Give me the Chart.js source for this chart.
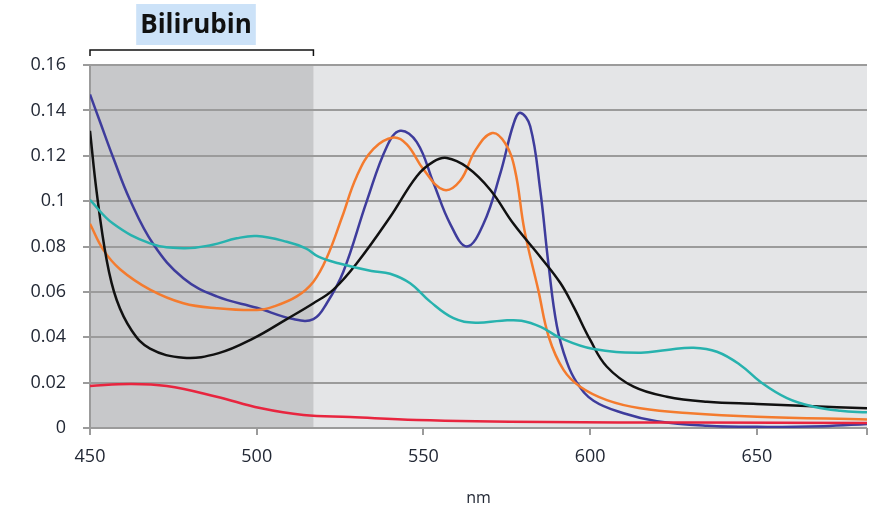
<!DOCTYPE html>
<html>
<head>
<meta charset="utf-8">
<script src="https://cdn.jsdelivr.net/npm/chart.js@4.4.1/dist/chart.umd.min.js"></script>
<style>
  html, body { margin: 0; padding: 0; background: #fff; }
  #wrap { width: 882px; height: 509px; }
</style>
</head>
<body>
<div id="wrap"><canvas id="chart" width="882" height="509"></canvas></div>
<script>
// Data (wavelength in nm, absorbance)
const blueNm  = [450, 453, 457, 462, 469, 478, 488, 500, 511, 517, 521, 526, 533, 539, 543, 548, 553, 558, 563, 568, 573, 577, 579, 582, 585, 587.5, 590, 593, 596, 601, 610, 620, 635, 650, 670, 683];
const blueAbs = [0.147, 0.135, 0.119, 0.1005, 0.081, 0.066, 0.058, 0.053, 0.048, 0.048, 0.055, 0.069, 0.1, 0.124, 0.131, 0.126, 0.108, 0.09, 0.08, 0.09, 0.112, 0.134, 0.139, 0.133, 0.105, 0.072, 0.045, 0.029, 0.02, 0.012, 0.0065, 0.003, 0.001, 0.0005, 0.0008, 0.0018];

const orangeNm  = [450, 454, 459, 468, 478, 488, 500, 505, 512, 517, 521, 525.6, 530, 535, 541, 545, 550, 556, 561, 565.6, 570.6, 574.5, 577.4, 580.3, 584.4, 587.6, 592, 597, 605, 615, 630, 650, 683];
const orangeAbs = [0.09, 0.0785, 0.07, 0.061, 0.055, 0.0528, 0.052, 0.0535, 0.058, 0.0645, 0.075, 0.093, 0.111, 0.123, 0.128, 0.125, 0.114, 0.105, 0.109, 0.1225, 0.13, 0.1255, 0.114, 0.087, 0.061, 0.04, 0.0256, 0.0182, 0.0123, 0.0087, 0.0065, 0.005, 0.0038];

const blackNm  = [450, 452, 455, 458, 462.5, 468, 478, 488.6, 499, 509, 517, 523, 530, 540, 548, 553, 557, 563, 570, 577, 585, 591, 595, 600, 605, 613, 623, 635, 650, 665, 683];
const blackAbs = [0.131, 0.104, 0.074, 0.0564, 0.043, 0.035, 0.031, 0.033, 0.0395, 0.048, 0.055, 0.061, 0.0726, 0.093, 0.111, 0.1174, 0.119, 0.115, 0.105, 0.09, 0.0755, 0.064, 0.0535, 0.0388, 0.027, 0.0182, 0.0138, 0.0116, 0.0106, 0.0097, 0.0087];

const tealNm  = [450, 457, 468, 478, 486.5, 494, 500, 509, 514.7, 518.5, 524.5, 534.4, 540, 546, 552, 559, 565.6, 573.5, 579.4, 585.3, 591, 601, 615, 623, 631, 638, 645, 651, 659, 667, 675, 683];
const tealAbs = [0.1005, 0.09, 0.0814, 0.0792, 0.0807, 0.0836, 0.0846, 0.0821, 0.0792, 0.0755, 0.0726, 0.0692, 0.068, 0.0638, 0.0557, 0.0484, 0.0464, 0.0473, 0.0473, 0.0445, 0.0397, 0.0348, 0.0332, 0.0344, 0.0354, 0.0336, 0.0278, 0.0204, 0.0132, 0.0094, 0.0076, 0.0069];

const redNm  = [450, 462, 473, 488, 501, 514, 528, 548, 587, 630, 683];
const redAbs = [0.0185, 0.0194, 0.0185, 0.0138, 0.0088, 0.0057, 0.0048, 0.0035, 0.0026, 0.0024, 0.0022];

const xTicks = [450, 500, 550, 600, 650];
const yTicks = [0, 0.02, 0.04, 0.06, 0.08, 0.1, 0.12, 0.14, 0.16];
const yTickLabels = ['0', '0.02', '0.04', '0.06', '0.08', '0.1', '0.12', '0.14', '0.16'];

const xMin = 450, xMax = 683;
const bandStart = 450, bandEnd = 517; // bilirubin region
const bandLabel = 'Bilirubin';

// helper to zip x/y arrays
function pts(xs, ys) {
  return xs.map((x, i) => ({ x: x, y: ys[i] }));
}

function line(label, xs, ys, color) {
  return {
    label: label,
    data: pts(xs, ys),
    borderColor: color,
    borderWidth: 2.5,
    pointRadius: 0,
    fill: false,
    tension: 0.4
  };
}

// background + bilirubin band + bracket
const decorPlugin = {
  id: 'decor',
  beforeDraw(chart) {
    const { ctx, chartArea: a, scales } = chart;
    ctx.save();
    ctx.fillStyle = '#e4e5e7';
    ctx.fillRect(a.left, a.top, a.right - a.left, a.bottom - a.top);
    const x0 = scales.x.getPixelForValue(bandStart);
    const x1 = scales.x.getPixelForValue(bandEnd);
    ctx.fillStyle = '#c7c8ca';
    ctx.fillRect(x0, a.top, x1 - x0, a.bottom - a.top);
    ctx.restore();
  },
  afterDraw(chart) {
    const { ctx, scales } = chart;
    const x0 = scales.x.getPixelForValue(bandStart);
    const x1 = scales.x.getPixelForValue(bandEnd);
    ctx.save();
    // bracket
    ctx.strokeStyle = '#111';
    ctx.lineWidth = 1.5;
    ctx.beginPath();
    ctx.moveTo(x0, 56);
    ctx.lineTo(x0, 50);
    ctx.lineTo(x1, 50);
    ctx.lineTo(x1, 56);
    ctx.stroke();
    // label with highlight box
    ctx.font = 'bold 26px "Open Sans"';
    const w = ctx.measureText(bandLabel).width;
    const cx = 196;
    ctx.fillStyle = '#cce2f8';
    ctx.fillRect(cx - w / 2 - 4, 4, w + 8, 41);
    ctx.fillStyle = '#111';
    ctx.textAlign = 'center';
    ctx.textBaseline = 'middle';
    ctx.fillText(bandLabel, cx, 26);
    ctx.restore();
  }
};

new Chart(document.getElementById('chart'), {
  type: 'line',
  data: {
    datasets: [
      line('Red', redNm, redAbs, '#e8253f'),
      line('Teal', tealNm, tealAbs, '#27b2ae'),
      line('Black', blackNm, blackAbs, '#111111'),
      line('Orange', orangeNm, orangeAbs, '#f47b2e'),
      line('Blue', blueNm, blueAbs, '#3e3c9c')
    ]
  },
  options: {
    responsive: false,
    animation: false,
    layout: { padding: { top: 65, right: 15, left: 0, bottom: 0 } },
    plugins: {
      legend: { display: false },
      tooltip: { enabled: false }
    },
    scales: {
      x: {
        type: 'linear',
        min: xMin,
        max: xMax,
        afterFit(scale) { scale.height = 81; },
        afterBuildTicks(scale) { scale.ticks = xTicks.concat([xMax]).map(v => ({ value: v })); },
        ticks: {
          color: '#222835',
          font: { family: 'Open Sans', size: 18 },
          padding: 11,
          maxRotation: 0,
          callback: (v) => xTicks.includes(v) ? String(v) : ''
        },
        grid: { drawOnChartArea: false, drawTicks: true, tickLength: 7, color: '#9b9b9b', lineWidth: 2 },
        border: { display: false },
        title: {
          display: true,
          text: 'nm',
          color: '#222835',
          font: { family: 'Open Sans', size: 16 },
          padding: { top: 0, bottom: 1 }
        }
      },
      y: {
        min: 0,
        max: 0.16,
        afterFit(scale) { scale.width = 90; },
        afterBuildTicks(scale) { scale.ticks = yTicks.map(v => ({ value: v })); },
        ticks: {
          color: '#222835',
          font: { family: 'Open Sans', size: 18 },
          padding: 17,
          callback: (v, i) => yTickLabels[i]
        },
        grid: { color: '#9b9b9b', lineWidth: 2, tickLength: 7 },
        border: { display: true, color: '#9b9b9b', width: 2 }
      }
    }
  },
  plugins: [decorPlugin]
});
</script>
</body>
</html>
